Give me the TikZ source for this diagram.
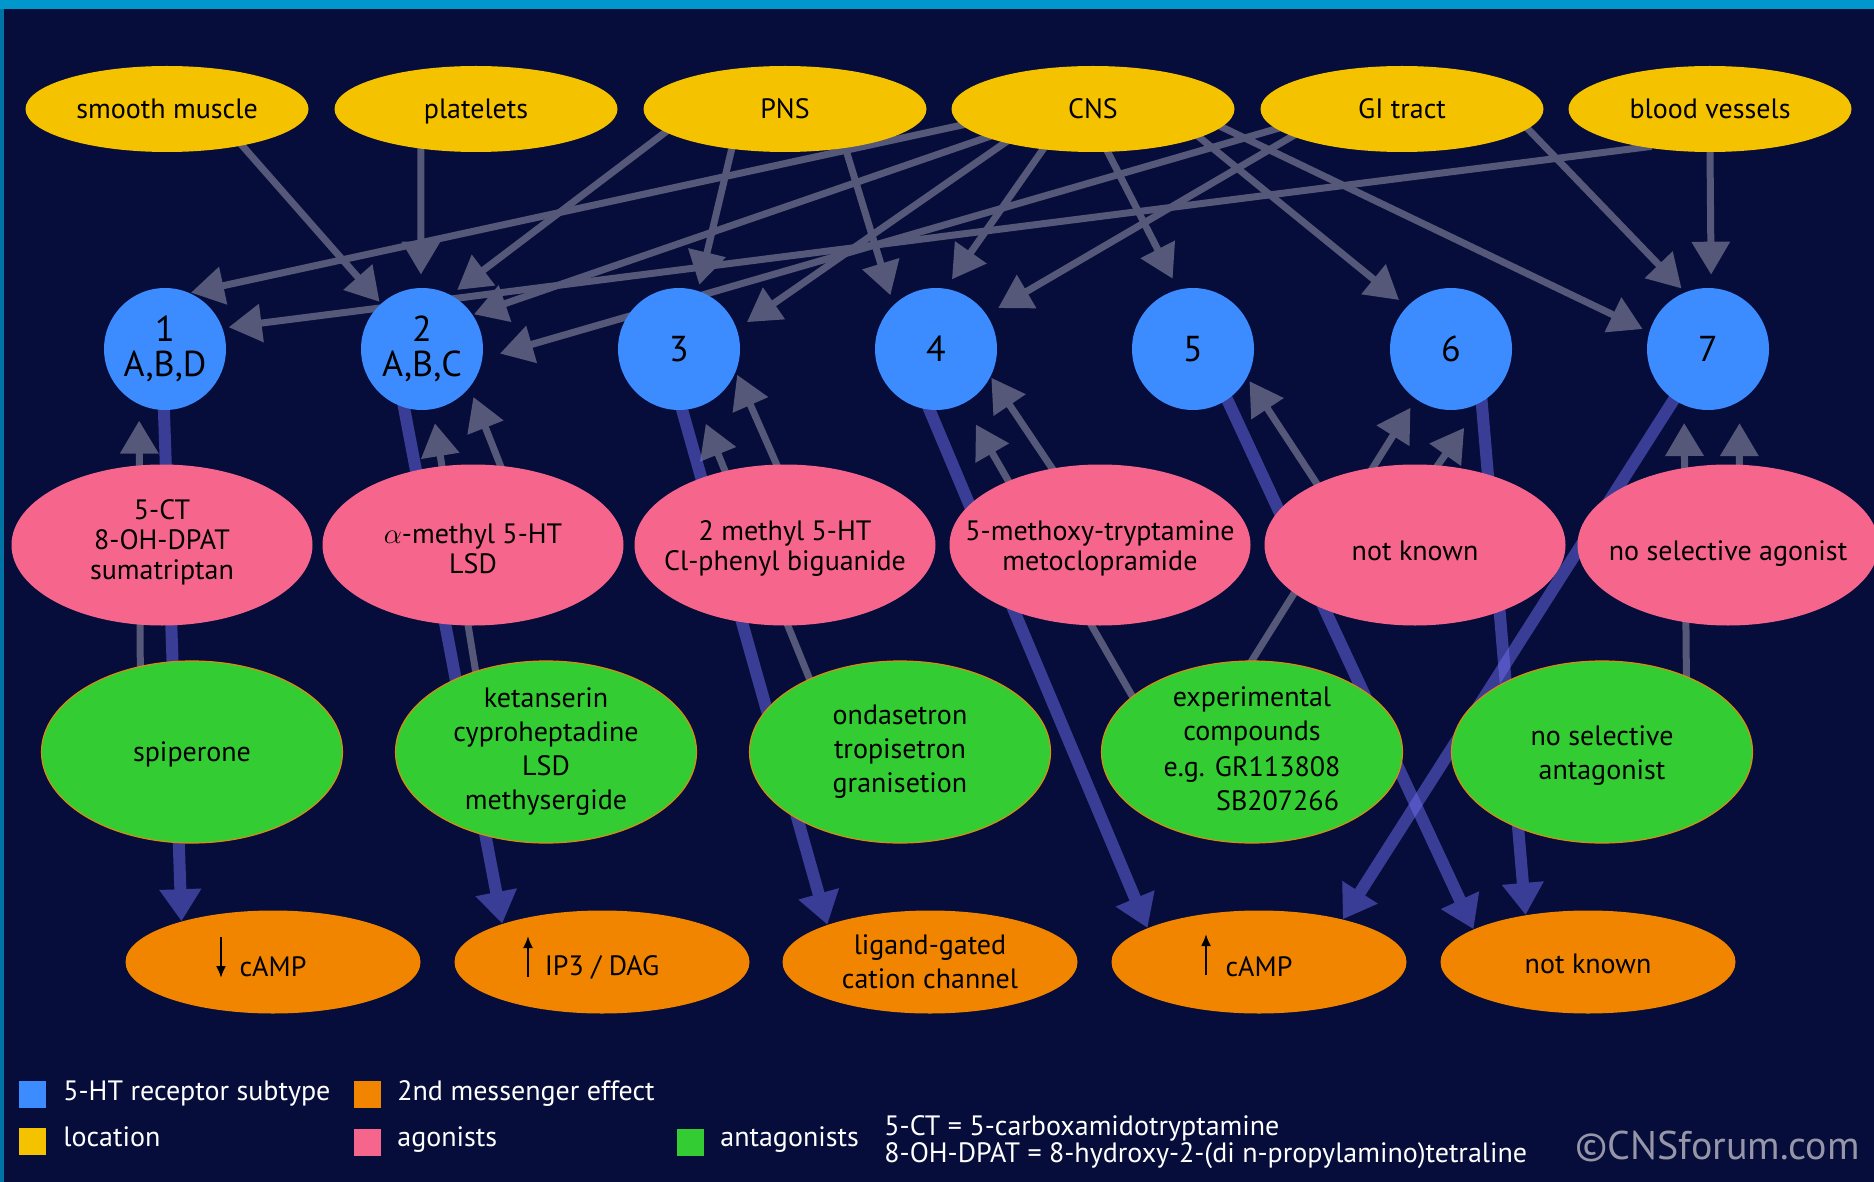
\documentclass[tikz,border=0pt]{standalone}
\usepackage{fontspec}
\setmainfont{PT Sans}
\usetikzlibrary{arrows.meta,shapes.geometric}
\pgfdeclarelayer{bg}
\pgfdeclarelayer{lines}
\pgfsetlayers{bg,lines,main}
\definecolor{bgnavy}{RGB}{6,13,58}
\definecolor{topcyan}{RGB}{0,152,204}
\definecolor{leftteal}{RGB}{0,115,165}
\definecolor{locyel}{RGB}{245,194,0}
\definecolor{recblue}{RGB}{60,140,255}
\definecolor{agopink}{RGB}{246,101,140}
\definecolor{antgreen}{RGB}{51,204,51}
\definecolor{antedge}{RGB}{214,140,20}
\definecolor{effor}{RGB}{242,133,0}
\definecolor{greyarr}{RGB}{85,88,120}
\definecolor{bluearr}{RGB}{110,110,240}
\definecolor{copygrey}{RGB}{150,150,168}
\begin{document}
\begin{tikzpicture}[x=0.5pt,y=-0.5pt,
  every node/.style={font=\fontsize{14pt}{15pt}\selectfont},
  locnode/.style={ellipse, fill=locyel, minimum width=141.5pt, minimum height=43pt, inner sep=0pt, text=black, text height=12.3pt, text depth=3pt},
  recnode/.style={circle, fill=recblue, minimum size=61pt, inner sep=0pt, align=center, text=black, font=\fontsize{18pt}{17.5pt}\selectfont},
  agonode/.style={ellipse, fill=agopink, minimum width=150.5pt, minimum height=80.5pt, inner sep=0pt},
  antnode/.style={ellipse, fill=antgreen, draw=antedge, line width=0.6pt, minimum width=150.5pt, minimum height=91pt, inner sep=0pt},
  effnode/.style={ellipse, fill=effor, minimum width=147.5pt, minimum height=51.5pt, inner sep=0pt},
  inlbl/.style={align=center, inner sep=0pt, text=black},
  antlbl/.style={align=center, inner sep=0pt, text=black, font=\fontsize{14pt}{17pt}\selectfont},
  garrow/.style={draw=greyarr, line width=3.5pt, shorten <=-4pt, -{Triangle[length=16.5pt,width=18.5pt]}},
  barrow/.style={draw=bluearr, line width=6pt, shorten <=-10pt, -{Triangle[length=16pt,width=20pt]}},
  bgroup/.style={transparency group, opacity=0.5},
  updown/.style={draw=black, line width=1pt, -{Latex[length=6pt,width=5pt]}},
  legsq/.style={rectangle, minimum size=13.5pt, inner sep=0pt},
  legtxt/.style={anchor=base west, inner sep=0pt, text=white}
]
\useasboundingbox (0,0) rectangle (1874,1182);
\begin{pgfonlayer}{bg}
\fill[bgnavy] (0,0) rectangle (1874,1182);
\fill[topcyan] (0,0) rectangle (1874,9);
\fill[leftteal] (0,9) rectangle (4,1182);
\end{pgfonlayer}

% locations
\node[locnode] (smm) at (167,109) {smooth muscle};
\node[locnode] (plt) at (476,109) {platelets};
\node[locnode] (pns) at (785,109) {PNS};
\node[locnode] (cns) at (1093,109) {CNS};
\node[locnode] (git) at (1402,109) {GI tract};
\node[locnode] (bv) at (1710,109) {blood vessels};

% receptors
\node[recnode] (c1) at (165,349) {1\\A,B,D};
\node[recnode] (c2) at (422,349) {2\\A,B,C};
\node[recnode] (c3) at (679,349) {3};
\node[recnode] (c4) at (936,349) {4};
\node[recnode] (c5) at (1193,349) {5};
\node[recnode] (c6) at (1451,349) {6};
\node[recnode] (c7) at (1708,349) {7};

% agonists
\node[agonode, label={[inlbl,yshift=1.5pt]center:{5-CT\\8-OH-DPAT\\sumatriptan}}] (ag1) at (162,545) {};
\node[agonode, label={[inlbl,yshift=-2pt]center:{$\alpha$-methyl 5-HT\\LSD}}] (ag2) at (473,545) {};
\node[agonode, label={[inlbl,yshift=-1.5pt]center:{2 methyl 5-HT\\Cl-phenyl biguanide}}] (ag3) at (785,545) {};
\node[agonode, label={[inlbl,yshift=-1.5pt]center:{5-methoxy-tryptamine\\metoclopramide}}] (ag4) at (1100,545) {};
\node[agonode, label={[inlbl,yshift=-3pt]center:{not known}}] (ag5) at (1415,545) {};
\node[agonode, label={[inlbl,yshift=-4.5pt]center:{no selective agonist}}] (ag6) at (1728,545) {};

% antagonists
\node[antnode, label={[antlbl,yshift=-1pt]center:{spiperone}}] (an1) at (192,752) {};
\node[antnode, label={[antlbl]center:{ketanserin\\cyproheptadine\\LSD\\methysergide}}] (an2) at (546,752) {};
\node[antnode, label={[antlbl]center:{ondasetron\\tropisetron\\granisetion}}] (an3) at (900,752) {};
\node[antnode, label={[antlbl]center:{experimental\\compounds\\[1pt]e.g. GR113808\\\phantom{e.g. }SB207266}}] (an4) at (1252,752) {};
\node[antnode, label={[antlbl,yshift=-2pt]center:{no selective\\antagonist}}] (an5) at (1602,752) {};

% effects
\node[effnode, label={[inlbl,yshift=-2.5pt]center:{cAMP}}] (ef1) at (273,962) {};
\node[effnode, label={[inlbl,yshift=-2.5pt]center:{IP3 / DAG}}] (ef2) at (602,962) {};
\node[effnode, label={[antlbl]center:{ligand-gated\\cation channel}}] (ef3) at (930,962) {};
\node[effnode, label={[inlbl,yshift=-2.5pt]center:{cAMP}}] (ef4) at (1259,962) {};
\node[effnode, label={[inlbl,yshift=-1pt]center:{not known}}] (ef5) at (1588,962) {};
\draw[updown] ([shift={(-52,-25)}]ef1.center) -- ([shift={(-52,16)}]ef1.center);
\draw[updown] ([shift={(-74,15)}]ef2.center) -- ([shift={(-74,-26)}]ef2.center);
\draw[updown] ([shift={(-53,13)}]ef4.center) -- ([shift={(-53,-28)}]ef4.center);

\begin{pgfonlayer}{lines}
% locations -> receptors
\draw[garrow, shorten >=1pt] (smm.-26) -- (c2.132);
\draw[garrow, shorten >=6.5pt] (plt.216) -- (c2.91);
\draw[garrow, shorten >=4pt] (pns.191) -- (c2.62);
\draw[garrow, shorten >=3pt] (pns.217) -- (c3.72);
\draw[garrow, shorten >=5pt] (pns.-33) -- (c4.134);
\draw[garrow, shorten >=0.5pt] (cns.187) -- (c1.66);
\draw[garrow, shorten >=0.5pt] (cns.195) -- (c2.34);
\draw[garrow, shorten >=6pt] (cns.201) -- (c3.19);
\draw[garrow, shorten >=5.5pt] (cns.219) -- (c4.81);
\draw[garrow, shorten >=6pt] (cns.-71) -- (c5.104);
\draw[garrow, shorten >=5pt] (cns.-15) -- (c6.136);
\draw[garrow, shorten >=3.5pt] (cns.-8) -- (c7.164);
\draw[garrow, shorten >=9pt] (git.189) -- (c2.-9.5);
\draw[garrow, shorten >=6.5pt] (git.194) -- (c4.34.5);
\draw[garrow, shorten >=2.5pt] (git.-9) -- (c7.112);
\draw[garrow, shorten >=3pt] (bv.210) -- (c1.20);
\draw[garrow, shorten >=6.5pt] (bv.south) -- (c7.87);
% agonists / antagonists -> receptors
\draw[garrow, shorten >=8pt] (an1.121) -- (c1.245.8);
\draw[garrow, shorten >=7pt] (an2.131) -- (c2.-80);
\draw[garrow, shorten >=5pt] (ag2.71) -- (c2.-39);
\draw[garrow, shorten >=9pt] (an3.141) -- (c3.-71);
\draw[garrow, shorten >=1.5pt] (ag3.96) -- (c3.-22);
\draw[garrow, shorten >=12pt] (an4.155) -- (c4.-63);
\draw[garrow, shorten >=0.5pt] (ag4.122) -- (c4.-27);
\draw[garrow, shorten >=2pt] (ag5.148) -- (c5.-28.5);
\draw[garrow, shorten >=5pt] (an4.north) -- (c6.235);
\draw[garrow, shorten >=16pt] (ag5.74) -- (c6.-59.2);
\draw[garrow, shorten >=8.75pt] (an5.42.5) -- (c7.247.8);
\draw[garrow, shorten >=10.75pt] (ag6.82) -- (c7.-59.4);
% receptors -> 2nd messenger
\begin{scope}[bgroup]\draw[barrow] (c1.269) -- (ef1.156);\end{scope}
\begin{scope}[bgroup]\draw[barrow] (c2.253.6) -- (ef2.159.1);\end{scope}
\begin{scope}[bgroup]\draw[barrow] (c3.273) -- (ef3.160);\end{scope}
\begin{scope}[bgroup]\draw[barrow] (c4.264) -- (ef4.163.6);\end{scope}
\begin{scope}[bgroup]\draw[barrow] (c5.304.4) -- (ef5.164);\end{scope}
\begin{scope}[bgroup]\draw[barrow] (c6.300.7) -- (ef5.143.6);\end{scope}
\begin{scope}[bgroup]\draw[barrow] (c7.236.3) -- (ef4.27.6);\end{scope}
\end{pgfonlayer}

% legend
\node[legsq, fill=recblue] (lq1) at (32.5,1094) {};
\node[legtxt] (lt1) at (63,1100) {5-HT receptor subtype};
\node[legsq, fill=effor] (lq2) at (367,1094) {};
\node[legtxt] (lt2) at (397,1100) {2nd messenger effect};
\node[legsq, fill=locyel] (lq3) at (32.5,1141) {};
\node[legtxt] (lt3) at (63,1146) {location};
\node[legsq, fill=agopink] (lq4) at (367,1142) {};
\node[legtxt] (lt4) at (397,1146) {agonists};
\node[legsq, fill=antgreen] (lq5) at (690,1142) {};
\node[legtxt] (lt5) at (720,1146) {antagonists};
\node[legtxt] (ab1) at (884,1135) {5-CT = 5-carboxamidotryptamine};
\node[legtxt] (ab2) at (884,1162) {8-OH-DPAT = 8-hydroxy-2-(di n-propylamino)tetraline};
\node[anchor=base west, inner sep=0pt, text=copygrey, font=\fontsize{20pt}{22pt}\selectfont] (copy) at (1575,1159) {©CNSforum.com};
\end{tikzpicture}
\end{document}
